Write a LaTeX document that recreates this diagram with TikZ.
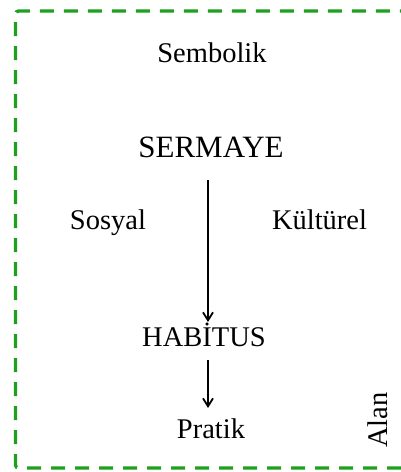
\documentclass[tikz,border=0pt]{standalone}
\usepackage{fontspec}
\setmainfont{Liberation Serif}
\usetikzlibrary{arrows.meta}
\definecolor{alangreen}{RGB}{30,160,30}
\begin{document}
\begin{tikzpicture}[x=1pt,y=1pt,
  lbl/.style={inner sep=0pt,anchor=base,font=\fontsize{28.5}{30}\selectfont},
  flow/.style={line width=1.6pt,-{Straight Barb[length=8pt,width=10pt,line width=1.8pt]}},
  fieldline/.style={draw=alangreen,line width=3.3pt,dash pattern=on 14pt off 10pt,rounded corners=3pt}]
\useasboundingbox (0,0) rectangle (401,472);
\draw[fieldline] (401,4) -- (15.5,4) -- (15.5,461) -- (401,461);
\node[lbl] (sembolik) at (212,409) {Sembolik};
\node[lbl,font=\fontsize{31}{33}\selectfont] (sermaye) at (211,314) {SERMAYE};
\node[lbl] (sosyal) at (108,242) {Sosyal};
\node[lbl] (kulturel) at (319.5,242) {Kültürel};
\node[lbl] (habitus) at (204,125) {HABİTUS};
\node[lbl] (pratik) at (211,34) {Pratik};
\node[lbl,rotate=90] (alan) at (387,52) {Alan};
\coordinate (a1s) at ([xshift=-3pt,yshift=-22pt]sermaye.base);
\coordinate (a1e) at ([xshift=4pt,yshift=25pt]habitus.base);
\coordinate (a2s) at ([xshift=4pt,yshift=-13pt]habitus.base);
\coordinate (a2e) at ([xshift=-3pt,yshift=30pt]pratik.base);
\draw[flow] (a1s) -- (a1e);
\draw[flow] (a2s) -- (a2e);
\end{tikzpicture}
\end{document}
